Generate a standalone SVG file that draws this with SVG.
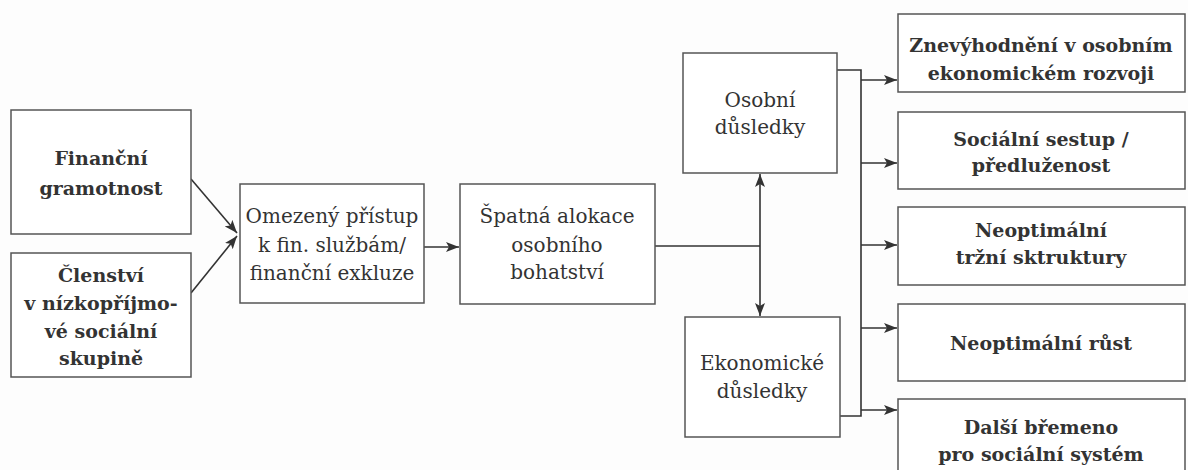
<svg xmlns="http://www.w3.org/2000/svg" width="1188" height="470" viewBox="0 0 1188 470">
<style>
.box{fill:#fff;stroke:#555;stroke-width:1.5}
.t{font-family:"DejaVu Serif",serif;font-size:20px;fill:#333;text-anchor:middle}
.b{font-weight:bold;font-size:19px}
.c{fill:none;stroke:#333;stroke-width:1.6}
</style>
<defs>
<marker id="ah" viewBox="0 0 13 10" refX="13" refY="5" markerWidth="13" markerHeight="10" markerUnits="userSpaceOnUse" orient="auto-start-reverse">
<path d="M0,0 L13,5 L0,10 L3,5 Z" fill="#333"/>
</marker>
</defs>
<rect width="1188" height="470" fill="#fdfdfd"/>
<g id="connectors">
<path class="c" d="M191,179 L237,233" marker-end="url(#ah)"/>
<path class="c" d="M191,293 L237,236" marker-end="url(#ah)"/>
<path class="c" d="M424,247 L459,247" marker-end="url(#ah)"/>
<path class="c" d="M655,246 L760,246"/>
<path class="c" d="M760,174 L760,316" marker-start="url(#ah)" marker-end="url(#ah)"/>
<path class="c" d="M837,70 L861,70 L861,416 L840,416"/>
<path class="c" d="M861,80 L897,80" marker-end="url(#ah)"/>
<path class="c" d="M861,163 L897,163" marker-end="url(#ah)"/>
<path class="c" d="M861,245 L897,245" marker-end="url(#ah)"/>
<path class="c" d="M861,328 L897,328" marker-end="url(#ah)"/>
<path class="c" d="M861,410 L897,410" marker-end="url(#ah)"/>
</g>
<g id="financni-gramotnost">
<rect class="box" x="11" y="110" width="180" height="124"/>
<text class="t b" x="101" y="165">Finanční</text>
<text class="t b" x="101" y="195">gramotnost</text>
</g>
<g id="clenstvi">
<rect class="box" x="11" y="253" width="180" height="124"/>
<text class="t b" x="101" y="282">Členství</text>
<text class="t b" x="101" y="310">v nízkopříjmo-</text>
<text class="t b" x="101" y="338">vé sociální</text>
<text class="t b" x="101" y="365">skupině</text>
</g>
<g id="omezeny-pristup">
<rect class="box" x="240" y="184" width="184" height="119"/>
<text class="t" x="332" y="223">Omezený přístup</text>
<text class="t" x="332" y="252">k fin. službám/</text>
<text class="t" x="332" y="280">finanční exkluze</text>
</g>
<g id="spatna-alokace">
<rect class="box" x="460" y="184" width="195" height="120"/>
<text class="t" x="557" y="223">Špatná alokace</text>
<text class="t" x="557" y="252">osobního</text>
<text class="t" x="557" y="279">bohatství</text>
</g>
<g id="osobni-dusledky">
<rect class="box" x="683" y="53" width="154" height="120"/>
<text class="t" x="760" y="107">Osobní</text>
<text class="t" x="760" y="134">důsledky</text>
</g>
<g id="ekonomicke-dusledky">
<rect class="box" x="685" y="317" width="155" height="120"/>
<text class="t" x="762" y="370">Ekonomické</text>
<text class="t" x="762" y="398">důsledky</text>
</g>
<g id="znevyhodneni">
<rect class="box" x="898" y="14" width="287" height="78"/>
<text class="t b" x="1041" y="52">Znevýhodnění v osobním</text>
<text class="t b" x="1041" y="80">ekonomickém rozvoji</text>
</g>
<g id="socialni-sestup">
<rect class="box" x="898" y="112" width="287" height="77"/>
<text class="t b" x="1041" y="146">Sociální sestup /</text>
<text class="t b" x="1041" y="172">předluženost</text>
</g>
<g id="neoptimalni-struktury">
<rect class="box" x="898" y="207" width="287" height="78"/>
<text class="t b" x="1041" y="237">Neoptimální</text>
<text class="t b" x="1041" y="264">tržní sktruktury</text>
</g>
<g id="neoptimalni-rust">
<rect class="box" x="898" y="304" width="287" height="77"/>
<text class="t b" x="1041" y="350">Neoptimální růst</text>
</g>
<g id="dalsi-bremeno">
<rect class="box" x="898" y="399" width="287" height="80"/>
<text class="t b" x="1041" y="434">Další břemeno</text>
<text class="t b" x="1041" y="461">pro sociální systém</text>
</g>
</svg>
